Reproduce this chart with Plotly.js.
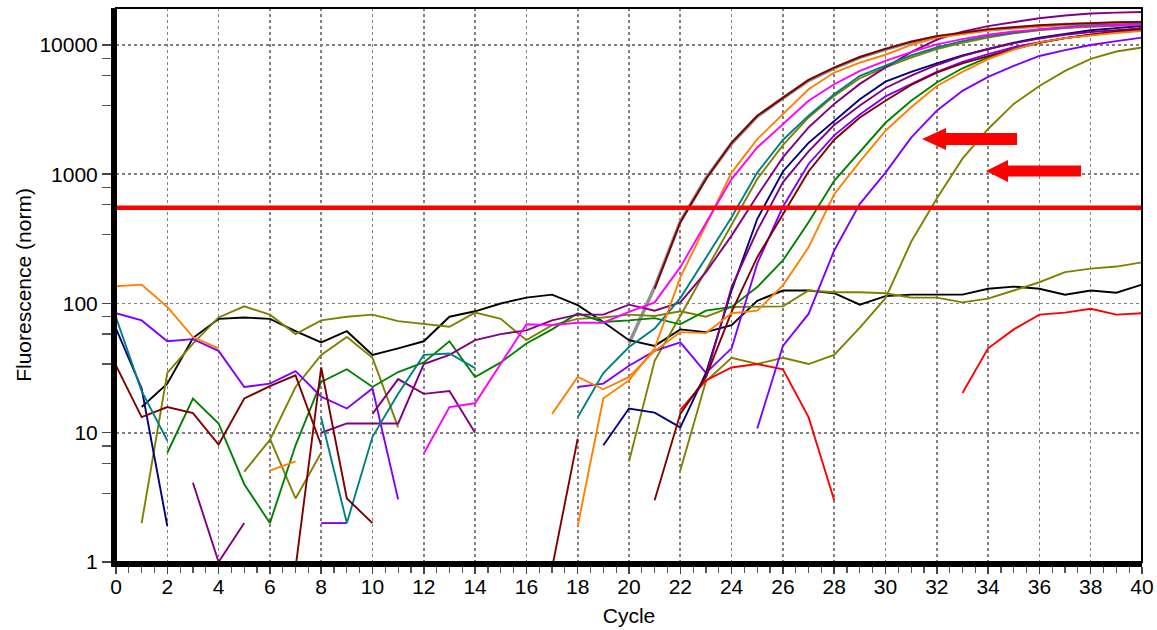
<!DOCTYPE html>
<html>
<head>
<meta charset="utf-8">
<script src="https://cdn.plot.ly/plotly-3.0.1.min.js"></script>
<style>html,body{margin:0;padding:0;background:#fff;}#chart{width:1157px;height:630px;}</style>
</head>
<body>
<div id="chart"></div>
<script>
const _ = null;
// cycle numbers (x)
const cycles = [0,1,2,3,4,5,6,7,8,9,10,11,12,13,14,15,16,17,18,19,20,21,22,23,24,25,26,27,28,29,30,31,32,33,34,35,36,37,38,39,40];

// y tick labels
const yTickVals = [1, 10, 100, 1000, 10000];
const yTickText = ["1", "10", "100", "1000", "10000"];
const thresholdValue = 550;

// fluorescence (norm) per cycle, null = not drawn (value <= 0)
const black = [_,15.8,24,54,76,78,76,61,50,61, 40,45,51,79,87,100,111,117,97,72, 52,47,63,60,68,105,126,126,120,98, 114,117,117,117,130,135,130,117,126,121, 140];
const oliveA = [_,2.0,29,49,78,95,82,58,74,79, 82,73,69,66,85,76,52,68,76,78, 82,80,87,79,94,95,95,126,122,122, 120,111,111,102,109,126,146,175,186,193, 208];
const olive1 = [_,_,_,_,_,_,9.0,3.1,7.0,_, _,_,_,_,_,_,_,_,_,_, 6.0,36,80,180,412,918,1680,2750,4040,5530, 6700,8000,9300,10400,11400,12300,13000,13500,13800,14100, 14250];
const olive2 = [_,_,_,_,_,5.0,8.8,22.6,40,55, 38,11,_,_,_,_,_,_,_,_, _,_,5.1,25,38,34,38,34,40,65, 110,300,650,1320,2240,3500,4820,6300,7800,8900, 9560];
const orange1 = [136,140,94,55,45,_,_,_,_,_, _,_,_,_,_,_,_,_,1.9,18.5, 25.4,45,159,400,1030,1870,2910,4540,6120,7300, 8400,10000,11400,12200,12900,13500,14000,14400,14700,14900, 15100];
const orange2 = [_,_,_,_,_,_,5.1,6.0,_,_, _,_,_,_,_,_,_,14,27,21.7, 27,43,60,59,84,88,138,272,700,1250, 2170,3300,4820,6200,7760,9200,10470,11300,11900,12400, 12800];
const teal = [78,21,8.7,_,_,_,_,_,13,2.0, 9.3,20,40,41,31.6,_,_,_,13.2,29, 46,64,110,228,464,1030,1840,2830,4160,5770, 6900,8300,9560,10700,11700,12500,13200,13700,14200,14400, 14600];
const magenta = [_,_,_,_,_,_,_,_,_,_, _,_,6.9,15.8,16.9,34,69,68,71,71, 86,102,191,420,918,1610,2450,3700,4970,6300, 7520,8800,10100,11100,12000,12700,13200,13600,14000,14200, 14400];
const gray = [_,_,_,_,_,_,_,_,_,_, _,_,_,_,_,_,_,_,_,_, 49,134,430,930,1730,2800,3880,5300,6600,8000, 9250,10500,11600,12400,13100,13600,14100,14400,14600,14700, 14800];
const maroon1 = [_,_,_,_,_,_,_,0.9,32,3.1, 2.0,_,_,_,_,_,_,0.9,9.0,_, _,130,425,918,1750,2830,3920,5370,6680,8070, 9340,10600,11700,12500,13200,13700,14200,14500,14800,15000, 15100];
const maroon2 = [33,13.2,15.8,14.2,8.1,18.4,22.9,27.8,8.0,_, _,_,_,_,_,_,_,_,_,_, _,3.0,14,27,86,228,495,1050,1850,2750, 3700,4900,6100,7200,8200,9300,10400,11300,12000,12800, 13500];
const purple1 = [_,_,_,_,_,_,_,_,10,11.8, 11.8,11.8,34,40,52,58,62,74,82,82, 98,88,102,175,335,682,1350,2300,3500,5000, 6700,8800,11000,12700,14000,15100,16100,16900,17500,17800, 18000];
const purple2 = [_,_,_,4.1,1.0,2.0,_,_,_,_, 14,26,20,21,10,_,_,_,_,_, _,_,_,27,134,366,865,1500,2400,3400, 4650,5800,7000,8200,9300,10300,11200,12000,12600,13000, 13400];
const navy = [64,22,1.9,_,_,_,_,_,_,_, _,_,_,_,_,_,_,_,_,8.0, 15.4,14.3,11,29,126,450,1050,1750,2600,3800, 5200,6200,7200,8300,9300,10400,11400,12200,13000,13500, 14000];
const violet1 = [84,74,51,53,43,22.6,24,30,19,15.4, 22,3.05,_,_,_,_,_,_,22.6,24, 33,43,50,29,45,204,560,1200,2000,2900, 4000,5000,6200,7400,8500,9600,10500,11300,12000,12500, 13000];
const violet2 = [_,_,_,_,_,_,_,_,2.0,2.0, _,_,_,_,_,_,_,_,_,_, _,_,_,_,_,10.8,47,83,257,590, 1030,1920,3100,4420,5660,6890,8220,9130,10000,10700, 11400];
const green = [_,_,7.0,18.4,11.8,4.0,2.0,8.0,24.7,31, 22.6,29.5,35,51,27,35,49,63,84,72, 74,77,69,88,94,134,215,425,890,1500, 2500,3700,5130,6600,8000,9300,10400,11300,12000,12600, 13200];
const red = [_,_,_,_,_,_,_,_,_,_, _,_,_,_,_,_,_,_,_,_, _,_,15,25.4,32,34,31,13.2,3.0,_, _,_,_,20.3,45,63,82,85,91,82, 84];

// styles, kept apart from the data
const seriesList = [
  {y: gray,    color: '#909090', width: 3.4},
  {y: black,   color: '#000000', width: 1.9},
  {y: oliveA,  color: '#808000', width: 1.9},
  {y: olive1,  color: '#808000', width: 1.9},
  {y: olive2,  color: '#808000', width: 1.9},
  {y: red,     color: '#FF0000', width: 1.9},
  {y: green,   color: '#008000', width: 1.9},
  {y: violet2, color: '#8000FF', width: 1.9},
  {y: violet1, color: '#8000FF', width: 1.9},
  {y: navy,    color: '#000080', width: 1.9},
  {y: purple2, color: '#800080', width: 1.9},
  {y: maroon2, color: '#800000', width: 1.9},
  {y: purple1, color: '#800080', width: 1.9},
  {y: teal,    color: '#008080', width: 1.9},
  {y: orange2, color: '#FF8000', width: 1.9},
  {y: orange1, color: '#FF8000', width: 1.9},
  {y: magenta, color: '#FF00FF', width: 1.9},
  {y: maroon1, color: '#800000', width: 1.9}
];

const traces = seriesList.map(s => ({
  type: 'scatter', mode: 'lines', x: cycles, y: s.y,
  line: {color: s.color, width: s.width}, connectgaps: false,
  hoverinfo: 'skip'
}));
traces.push({
  type: 'scatter', mode: 'lines',
  x: [cycles[0], cycles[cycles.length - 1]], y: [thresholdValue, thresholdValue],
  line: {color: '#FF0000', width: 4.5}, hoverinfo: 'skip'
});

// plot geometry (pixels) used to place the decorative arrows
const W = 1157, H = 630;
const M = {l: 116, r: 15, t: 8, b: 68};
const plotL = M.l, plotR = W - M.r, plotT = M.t, plotB = H - M.b;
const px = x => (x - plotL) / (plotR - plotL);
const py = y => (plotB - y) / (plotB - plotT);
function arrowPath(tipX, tipY, baseX, endX, headHalf, bodyHalf) {
  const pts = [
    [tipX, tipY], [baseX, tipY - headHalf], [baseX, tipY - bodyHalf],
    [endX, tipY - bodyHalf], [endX, tipY + bodyHalf], [baseX, tipY + bodyHalf],
    [baseX, tipY + headHalf]
  ];
  return 'M' + pts.map(p => px(p[0]).toFixed(5) + ',' + py(p[1]).toFixed(5)).join('L') + 'Z';
}

// minor log ticks as drawn in the reference (three per decade)
const minorVals = [];
[1, 10, 100, 1000, 10000].forEach(d => { [3.4, 5.8, 7.9].forEach(m => minorVals.push(d * m)); });

const layout = {
  width: W, height: H,
  margin: M,
  paper_bgcolor: '#ffffff', plot_bgcolor: '#ffffff',
  showlegend: false,
  font: {family: 'Liberation Sans, Arial, sans-serif', color: '#000000', size: 21},
  xaxis: {
    range: [0, 40], tickmode: 'linear', tick0: 0, dtick: 2,
    ticks: 'outside', ticklen: 7, tickwidth: 1.5, tickcolor: '#444',
    ticklabelstandoff: -5,
    showline: true, linewidth: 5, linecolor: '#000',
    showgrid: true, gridcolor: '#808080', griddash: 'dot', gridwidth: 1.6,
    zeroline: false, tickfont: {size: 21},
    title: {text: 'Cycle', font: {size: 21}, standoff: 13},
    minor: {dtick: 0.5, tick0: 0, ticks: 'outside', ticklen: 6, tickwidth: 1.2, tickcolor: '#555', showgrid: false}
  },
  yaxis: {
    type: 'log', range: [0, 4.286],
    tickmode: 'array', tickvals: yTickVals, ticktext: yTickText,
    ticks: 'outside', ticklen: 9, tickwidth: 1.5, tickcolor: '#444',
    showline: true, linewidth: 5, linecolor: '#000',
    showgrid: true, gridcolor: '#808080', griddash: 'dot', gridwidth: 1.6,
    zeroline: false, tickfont: {size: 21},
    title: {text: 'Fluorescence (norm)', font: {size: 21}, standoff: 4},
    minor: {tickmode: 'array', tickvals: minorVals, ticks: 'outside', ticklen: 9, tickwidth: 1.2, tickcolor: '#555', showgrid: false}
  },
  shapes: [
    {type: 'rect', xref: 'paper', yref: 'paper', x0: 0, x1: 1, y0: 0, y1: 1,
     line: {color: '#000', width: 2}, fillcolor: 'rgba(0,0,0,0)', layer: 'above'},
    {type: 'path', xref: 'paper', yref: 'paper', path: arrowPath(922, 139, 946, 1017, 11, 6),
     fillcolor: '#FF0000', line: {width: 0}, layer: 'above'},
    {type: 'path', xref: 'paper', yref: 'paper', path: arrowPath(986, 171, 1008, 1081, 11, 5.5),
     fillcolor: '#FF0000', line: {width: 0}, layer: 'above'}
  ]
};

Plotly.newPlot('chart', traces, layout, {staticPlot: true, displayModeBar: false});
</script>
</body>
</html>
